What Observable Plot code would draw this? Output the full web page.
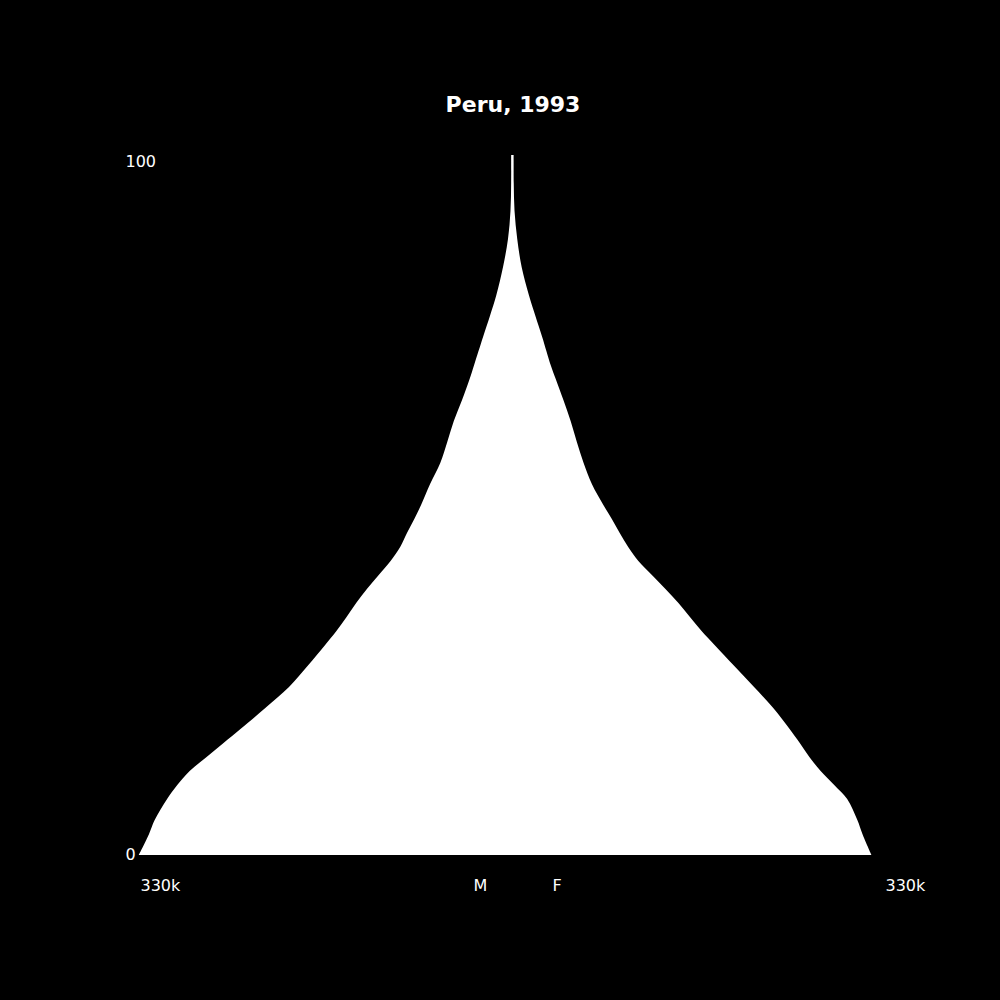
<!DOCTYPE html>
<html>
<head>
<meta charset="utf-8">
<script src="https://cdn.jsdelivr.net/npm/d3@7"></script>
<script src="https://cdn.jsdelivr.net/npm/@observablehq/plot@0.6"></script>
<style>
  html, body { margin: 0; padding: 0; background: #000; }
</style>
</head>
<body>
<div id="chart"></div>
<script>
// Population by age, thousands
const ages   = [0,   3,   5,     8,     10,  12,  14,  16,    18,    21,  24,  27,    30,  32,    34,    36,    38,    40,    42,    44,    46,   48,   50,   53,   56, 59,   62,   65,   68,   70,   74,   77,   80,   84,  88,  92,  96,  100];
const male   = [331, 322, 317,   306,   297, 286, 271, 256,   241,   219, 198, 181.6, 166, 156,   147,   138.5, 129,   118.5, 108,   99.5,  93.5, 87,   81,   73,   64, 57.8, 52,   44.7, 38,   34,   26.1, 20,   14.3, 8.4, 4,   1.8, 1.2, 1.2];
const female = [318, 310, 305.5, 296.5, 285, 273, 263, 254.5, 245.5, 231, 214, 196.5, 179, 167.5, 157.2, 147,   135.5, 123.5, 111.5, 102.5, 95,   88,   80.5, 70.3, 63, 57,   51.5, 45.1, 38.3, 33.8, 26.3, 20.3, 14.5, 8.1, 4.2, 1.8, 1.1, 1.0];

const title = "Peru, 1993";
const xTicks = [-330000, -35000, 35000, 330000];
const xTickLabels = ["330k", "M", "F", "330k"];
const yTicks = [0, 100];

const data = ages.map((a, i) => ({age: a, male: male[i] * 1000, female: female[i] * 1000}));
const xTickData = xTicks.map((v, i) => ({v, label: xTickLabels[i]}));

const chart = Plot.plot({
  width: 1000,
  height: 1000,
  marginLeft: 140,
  marginRight: 115,
  marginTop: 155,
  marginBottom: 145,
  style: {background: "#000", color: "#fff", fontFamily: "'DejaVu Sans', sans-serif", fontSize: "16px"},
  x: {domain: [-330000, 330000], axis: null},
  y: {domain: [0, 100], axis: null},
  marks: [
    Plot.areaX(data, {y: "age", x1: d => -d.male, x2: d => d.female, fill: "#fff", curve: "catmull-rom"}),
    Plot.text([title], {frameAnchor: "top", dy: -59, fontSize: 22, fontWeight: "bold", fill: "#fff"}),
    Plot.text(xTickData, {x: "v", text: "label", frameAnchor: "bottom", textAnchor: "start", dy: 35.5, fill: "#fff", fontSize: 16}),
    Plot.text(yTicks, {filter: d => d === 100, y: d => d, text: d => String(d), frameAnchor: "left", textAnchor: "start", dx: -15, dy: 6, fill: "#fff", fontSize: 16}),
    Plot.text(yTicks, {filter: d => d === 0, y: d => d, text: d => String(d), frameAnchor: "left", textAnchor: "start", dx: -15, dy: -1, fill: "#fff", fontSize: 16})
  ]
});
document.getElementById("chart").appendChild(chart);
</script>
</body>
</html>
